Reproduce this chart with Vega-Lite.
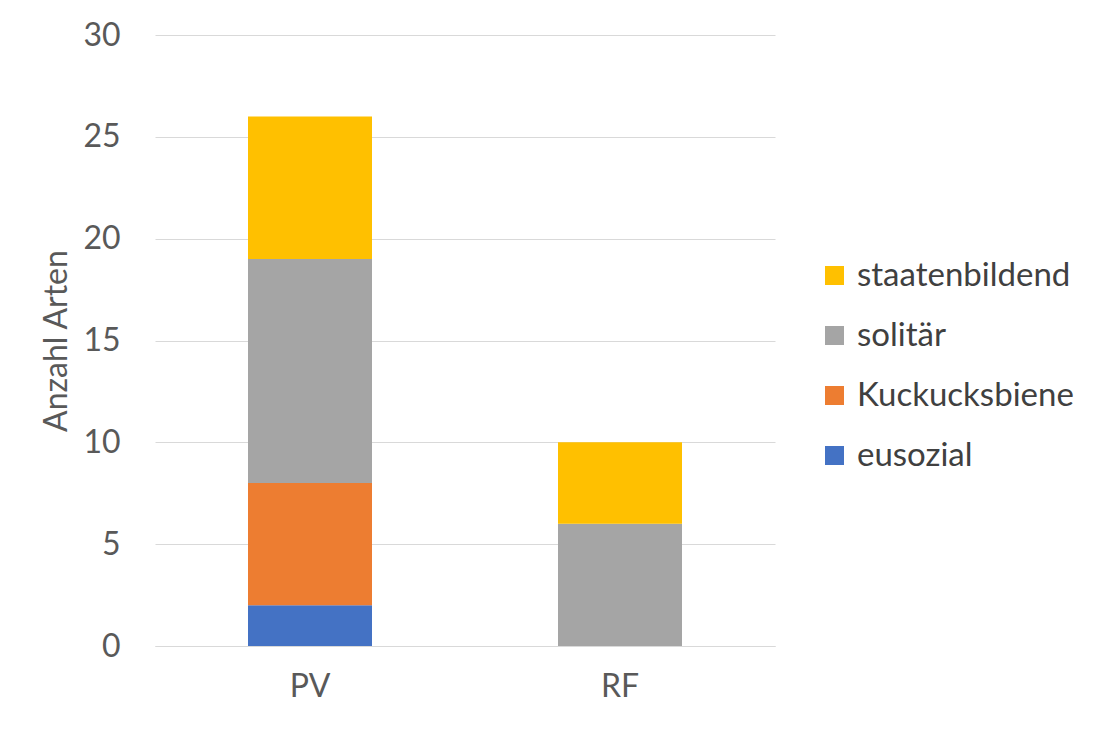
{
  "$schema": "https://vega.github.io/schema/vega-lite/v6.json",
  "autosize": "none",
  "width": 620,
  "height": 611,
  "padding": {"left": 155, "top": 35, "right": 319, "bottom": 84},
  "background": "white",
  "config": {
    "font": "Lato",
    "view": {"stroke": null},
    "axis": {"labelColor": "#595959", "titleColor": "#595959", "labelFontSize": 32, "titleFontSize": 32, "titleFontWeight": "normal"}
  },
  "data": {
    "values": [
      {"gebiet": "PV", "typ": "eusozial", "k": 1, "arten": 2},
      {"gebiet": "PV", "typ": "Kuckucksbiene", "k": 2, "arten": 6},
      {"gebiet": "PV", "typ": "solitär", "k": 3, "arten": 11},
      {"gebiet": "PV", "typ": "staatenbildend", "k": 4, "arten": 7},
      {"gebiet": "RF", "typ": "solitär", "k": 3, "arten": 6},
      {"gebiet": "RF", "typ": "staatenbildend", "k": 4, "arten": 4}
    ]
  },
  "mark": {"type": "bar"},
  "encoding": {
    "x": {
      "field": "gebiet",
      "type": "nominal",
      "scale": {"paddingInner": 0.6, "paddingOuter": 0.3},
      "axis": {"title": null, "labelAngle": 0, "domainColor": "#D9D9D9", "ticks": false, "labelPadding": 25}
    },
    "y": {
      "field": "arten",
      "type": "quantitative",
      "stack": "zero",
      "scale": {"domain": [0, 30]},
      "axis": {"title": "Anzahl Arten", "values": [0, 5, 10, 15, 20, 25, 30], "domain": false, "ticks": false, "gridColor": "#D9D9D9", "labelPadding": 35, "titlePadding": 9}
    },
    "order": {"field": "k", "type": "quantitative", "sort": "ascending"},
    "color": {
      "field": "typ",
      "type": "nominal",
      "scale": {
        "domain": ["staatenbildend", "solitär", "Kuckucksbiene", "eusozial"],
        "range": ["#FFC000", "#A5A5A5", "#ED7D31", "#4472C4"]
      },
      "legend": {
        "title": null,
        "orient": "none",
        "legendX": 663,
        "legendY": 224,
        "symbolType": "square",
        "symbolSize": 360,
        "symbolStrokeWidth": 0,
        "labelFontSize": 33,
        "labelColor": "#404040",
        "labelOffset": 6,
        "labelLimit": 0,
        "rowPadding": 26
      }
    }
  }
}
